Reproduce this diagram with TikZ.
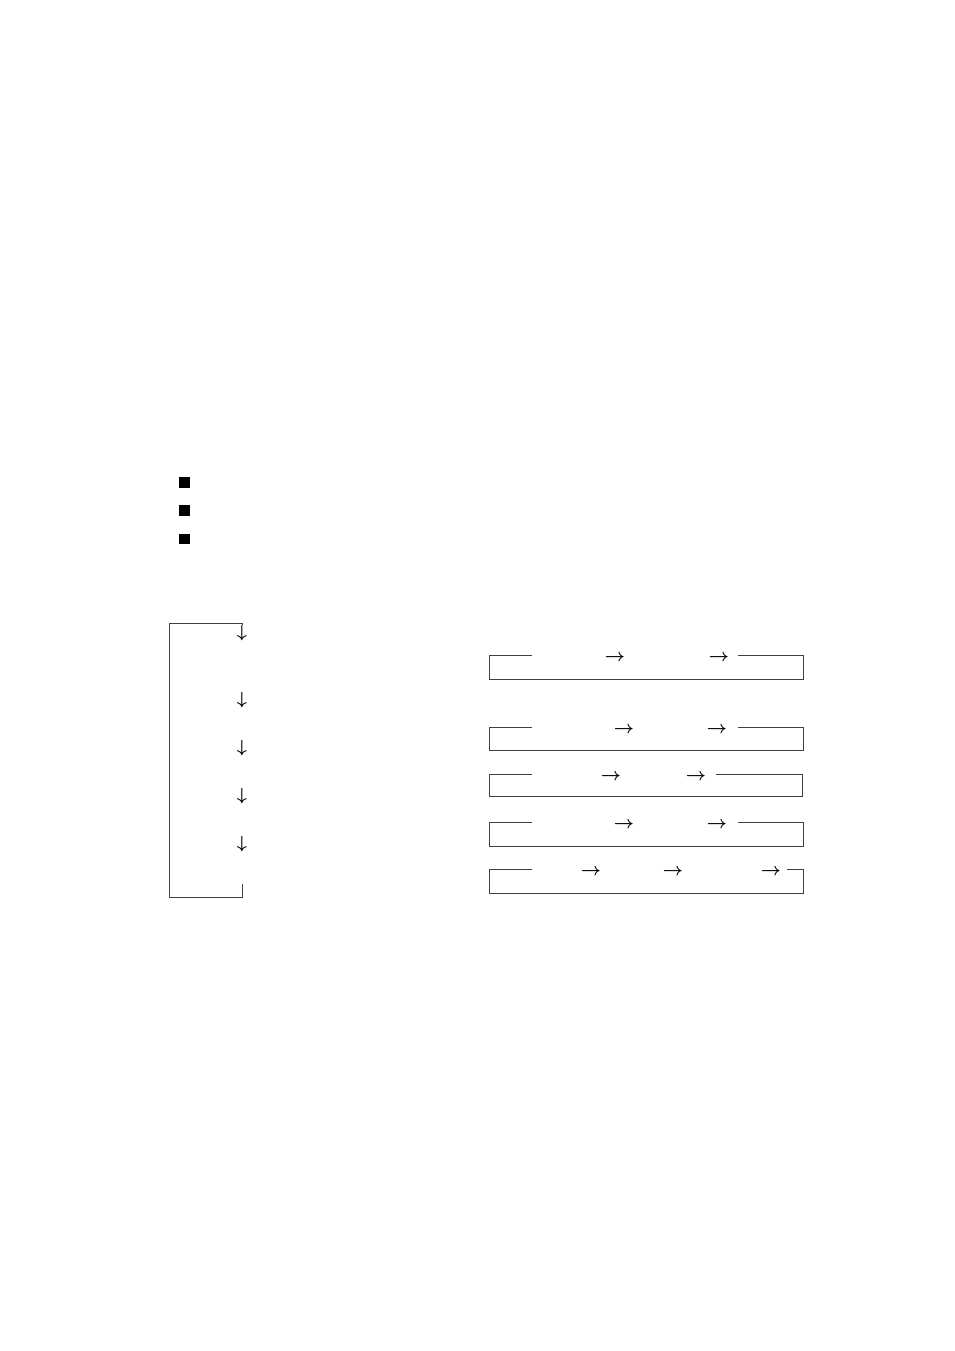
\documentclass[tikz,border=0pt]{standalone}
\begin{document}
\begin{tikzpicture}[x=0.6236pt,y=-0.6236pt,
  bulletsq/.style={draw=none,fill=black,minimum size=6.3pt,inner sep=0pt},
  rarr/.style={inner sep=0pt,anchor=base,font=\fontsize{10.5pt}{12pt}\selectfont\boldmath},
  darr/.style={inner sep=0pt,anchor=base,font=\fontsize{10.5pt}{12pt}\selectfont\boldmath},
  frame/.style={line width=0.6pt,draw=black!75}]
\useasboundingbox (0,0) rectangle (954,1351);
% bullets
\node[bulletsq] (b1) at (184.5,482.5) {};
\node[bulletsq] (b2) at (184.5,510.5) {};
\node[bulletsq] (b3) at (184.5,539) {};
% left bracket
\node[darr] (d1) at (242,637.5) {$\downarrow$};
\draw[frame] (d1.north) -- (242,623) -- (169,623) -- (169,897) -- (242,897) -- (242,884);
\node[darr] (d2) at (242,704.5) {$\downarrow$};
\node[darr] (d3) at (242,752.5) {$\downarrow$};
\node[darr] (d4) at (242,800.5) {$\downarrow$};
\node[darr] (d5) at (242,848.5) {$\downarrow$};
% right boxes
\draw[frame] (532,655) -- (489,655) -- (489,679) -- (803,679) -- (803,655) -- (738,655);
\node[rarr] (r11) at (615,661) {$\rightarrow$};
\node[rarr] (r12) at (719,661) {$\rightarrow$};
\draw[frame] (532,727) -- (489,727) -- (489,750) -- (803,750) -- (803,727) -- (738,727);
\node[rarr] (r21) at (624,733) {$\rightarrow$};
\node[rarr] (r22) at (717,733) {$\rightarrow$};
\draw[frame] (532,774) -- (489,774) -- (489,796) -- (802,796) -- (802,774) -- (716,774);
\node[rarr] (r31) at (611,780) {$\rightarrow$};
\node[rarr] (r32) at (696,780) {$\rightarrow$};
\draw[frame] (532,822) -- (489,822) -- (489,846) -- (803,846) -- (803,822) -- (738,822);
\node[rarr] (r41) at (624,828) {$\rightarrow$};
\node[rarr] (r42) at (717,828) {$\rightarrow$};
\draw[frame] (532,869) -- (489,869) -- (489,893) -- (803,893) -- (803,869) -- (787,869);
\node[rarr] (r51) at (591,875) {$\rightarrow$};
\node[rarr] (r52) at (673,875) {$\rightarrow$};
\node[rarr] (r53) at (771,875) {$\rightarrow$};
\end{tikzpicture}
\end{document}
